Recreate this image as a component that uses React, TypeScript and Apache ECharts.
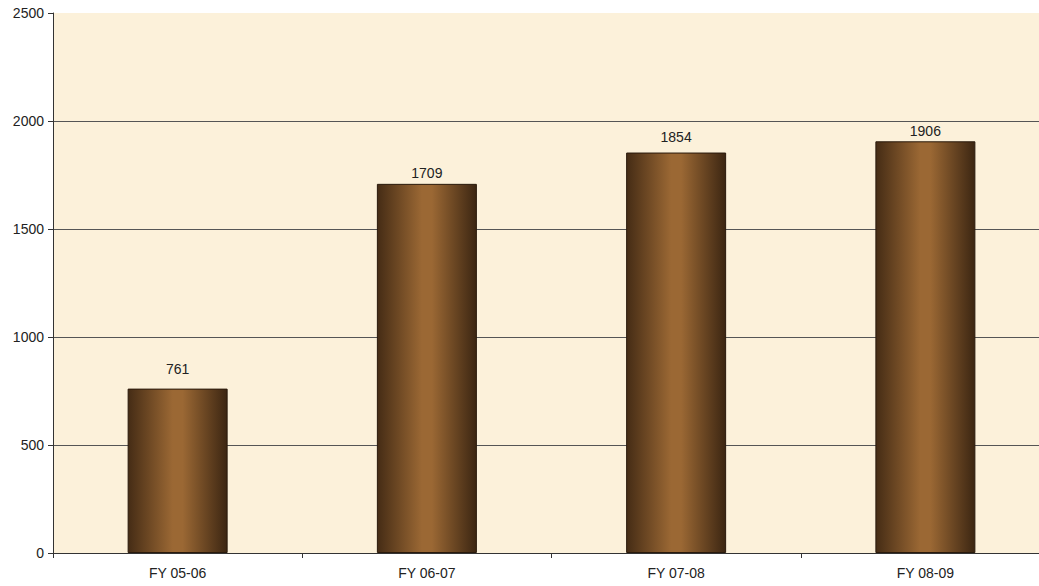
import React, { useEffect, useRef } from "react";
import * as echarts from "echarts";

const categories = ["FY 05-06", "FY 06-07", "FY 07-08", "FY 08-09"];
const values = [761, 1709, 1854, 1906];
const labelGaps = [13, 4, 9, 3];

export default function App() {
  const ref = useRef<HTMLDivElement>(null);
  useEffect(() => {
    const chart = echarts.init(ref.current!, null, { renderer: "svg" });
    chart.setOption({
      animation: false,
      grid: {
        left: 53,
        right: -11,
        top: 13,
        bottom: 33,
        outerBoundsMode: "none",
        show: true,
        backgroundColor: "#fcf1da",
        borderWidth: 0,
      },
      xAxis: {
        type: "category",
        data: categories,
        axisLine: { show: true, lineStyle: { color: "#333", width: 1 } },
        axisTick: { show: true, alignWithLabel: false, length: 5, lineStyle: { color: "#333" } },
        axisLabel: { color: "#222", fontFamily: "Liberation Sans, Arial", fontSize: 14, margin: 13 },
      },
      yAxis: {
        type: "value",
        min: 0,
        max: 2500,
        interval: 500,
        axisLine: { show: true, lineStyle: { color: "#333", width: 1 } },
        axisTick: { show: true, length: 5, lineStyle: { color: "#333" } },
        axisLabel: {
          color: "#222",
          fontFamily: "Liberation Sans, Arial",
          fontSize: 14,
          margin: 9,
          formatter: (v: number) => String(v),
        },
        splitLine: {
          show: true,
          lineStyle: {
            color: ["#555", "#555", "#555", "#555", "#555", "rgba(0,0,0,0)"],
            width: 1,
          },
        },
      },
      series: [
        {
          type: "bar",
          data: values.map((v, i) => ({ value: v, label: { distance: labelGaps[i] } })),
          barWidth: 100,
          itemStyle: {
            borderColor: "#2a1a0c",
            borderWidth: 1,
            color: new echarts.graphic.LinearGradient(0, 0, 1, 0, [
              { offset: 0, color: "#452c15" },
              { offset: 0.45, color: "#9b6834" },
              { offset: 0.55, color: "#9b6834" },
              { offset: 1, color: "#3c2612" },
            ]),
          },
          label: {
            show: true,
            position: "top",
            color: "#222",
            fontFamily: "Liberation Sans, Arial",
            fontSize: 14,
          },
        },
      ],
    });
    return () => chart.dispose();
  }, []);
  return <div ref={ref} style={{ width: 1039, height: 586, position: "fixed", left: 0, top: 0, background: "#fff" }} />;
}
